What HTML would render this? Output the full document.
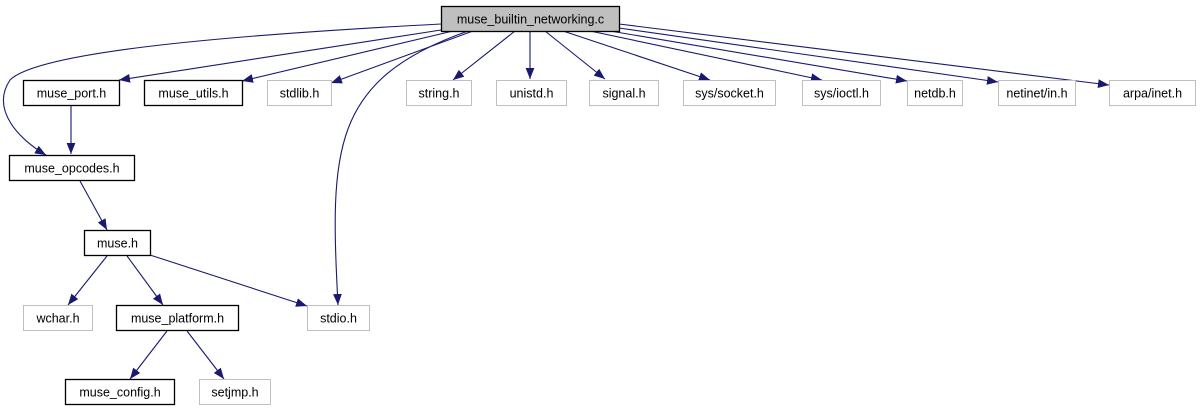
<!DOCTYPE html>
<html><head><meta charset="utf-8"><style>
html,body{margin:0;padding:0;background:#fff;}
svg{display:block;font-family:"Liberation Sans",sans-serif;}
</style></head><body>
<svg id="g" width="1200" height="411" viewBox="0 0 1200 411">
<defs><marker id="ah" viewBox="0 0 10 10" refX="10" refY="5" markerWidth="11" markerHeight="11" markerUnits="userSpaceOnUse" orient="auto"><path d="M0,1 L10,5 L0,9 z" fill="#191970"/></marker></defs>
<g id="edges"></g><g id="nodes"></g>
</svg>
<script>
const nodeNames=["muse_builtin_networking.c","muse_port.h","muse_utils.h","stdlib.h","string.h","unistd.h","signal.h","sys/socket.h","sys/ioctl.h","netdb.h","netinet/in.h","arpa/inet.h","muse_opcodes.h","muse.h","wchar.h","muse_platform.h","stdio.h","muse_config.h","setjmp.h"];
const nodeKinds=["root","doc","doc","sys","sys","sys","sys","sys","sys","sys","sys","sys","doc","doc","sys","doc","sys","doc","sys"];
const nodeX=[441,23,144,267,406,496,589,683,802,907,998,1109,9,84,23,116,307,65,199];
const nodeW=[178,96,98,64,65,70,69,92,78,55,77,86,125,66,69,122,62,109,71];
const nodeY=[6,80,80,80,80,80,80,80,80,80,80,80,155,230,305,305,305,379,379];
const edgePaths=[
"M441,24 C250,34 40,50 10,80 C-10,110 20,140 46,155",
"M441,30 L119,80","M453,31 L242,81","M473,31 L331,83",
"M468,31 C330,80 330,150 338,305",
"M515,31 L453,80","M530,31 L530,79","M545,31 L605,79",
"M563,31 L710,80","M590,31 L822,80","M610,31 L907,81",
"M619,28 L998,82","M619,24 L1109,85",
"M71,106 L71,154","M80,181 L107,230",
"M107,256 L68,305","M127,256 L163,305","M150,255 L307,306",
"M167,331 L130,379","M187,331 L224,379"];
const ns="http://www.w3.org/2000/svg";
const eg=document.getElementById('edges'),ng=document.getElementById('nodes');
edgePaths.forEach((d,i)=>{const p=document.createElementNS(ns,'path');p.setAttribute('d',d);p.setAttribute('fill','none');p.setAttribute('stroke','#191970');p.setAttribute('stroke-width','1.1');p.setAttribute('marker-end','url(#ah)');


eg.appendChild(p);});
nodeNames.forEach((n,i)=>{const g=document.createElementNS(ns,'g');


const r=document.createElementNS(ns,'rect');r.setAttribute('x',nodeX[i]+0.5);r.setAttribute('y',nodeY[i]+0.5);r.setAttribute('width',nodeW[i]);r.setAttribute('height',25);
const k=nodeKinds[i];r.setAttribute('fill',k==='root'?'#bfbfbf':'#fff');r.setAttribute('stroke',k==='sys'?'#bfbfbf':'#000');r.setAttribute('stroke-width',k==='sys'?1:1.3);
const t=document.createElementNS(ns,'text');t.setAttribute('x',nodeX[i]+nodeW[i]/2+0.5);t.setAttribute('y',nodeY[i]+17.5);t.setAttribute('text-anchor','middle');t.setAttribute('font-size','12.5');t.setAttribute('fill','#000');t.textContent=n;
g.appendChild(r);g.appendChild(t);ng.appendChild(g);});
</script>
</body></html>
